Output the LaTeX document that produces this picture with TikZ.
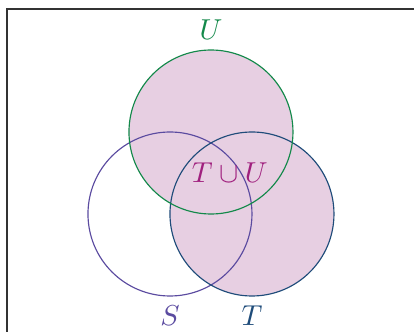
\documentclass[tikz,border=0pt]{standalone}
\usepackage{amsmath}
\usepackage{amssymb}
\usetikzlibrary{calc}
\definecolor{colS}{HTML}{5B4BA0}
\definecolor{colT}{HTML}{1F4C7A}
\definecolor{colU}{HTML}{13894A}
\definecolor{colUnion}{HTML}{A0207E}
\definecolor{unionfill}{HTML}{E7CFE2}
\definecolor{framegray}{HTML}{333333}
\tikzset{
  setfill/.style={fill=unionfill},
  setline/.style={draw=#1,thin}
}

\begin{document}
\begin{tikzpicture}
\useasboundingbox (-2.073,-1.427) rectangle (2.976,2.61);
\clip (-2.073,-1.427) rectangle (2.976,2.61);
\draw [framegray,line width=0.5pt] (-1.99,-3) rectangle (4,2.5);
\coordinate (S) at (0,0);
\coordinate (T) at (1,0);
\coordinate (U) at (0.5,1);
% shaded union
\fill [setfill] (T) circle (1);
\fill [setfill] (U) circle (1);
\draw [setline=colS] (S) circle (1);
\draw [setline=colT] (T) circle (1);
\draw [setline=colU] (U) circle (1);
\node [colU,above] (labU) at ($(U)+(0,1)$) {$U$};
\node [colS,below] (labS) at ($(S)+(0,-1)$) {$S$};
\node [colT,below] (labT) at ($(T)+(0,-1)$) {$T$};
\node [colUnion] (labTU) at (0.73,0.51) {$T\cup U$};
\end{tikzpicture}
\end{document}
